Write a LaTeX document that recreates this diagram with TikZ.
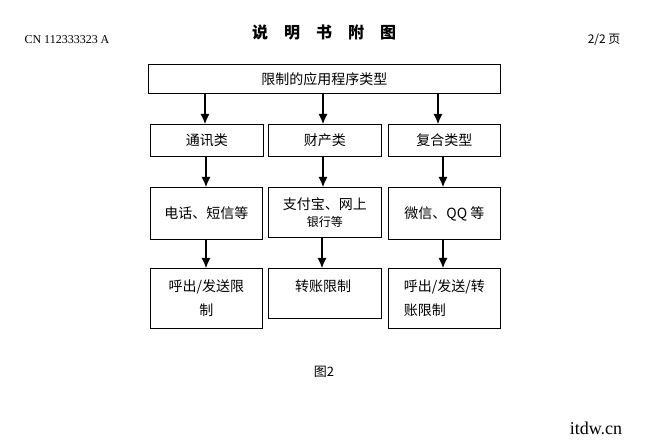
\documentclass[tikz,border=0pt]{standalone}
\usetikzlibrary{arrows.meta}
\usepackage{fontspec}
\setmainfont{Liberation Serif}
\newfontfamily\cjk{Noto Sans CJK SC}
\begin{document}
\begin{tikzpicture}[x=1pt,y=-1pt,
  box/.style={draw,line width=0.9pt,anchor=north west,inner sep=0pt,font=\cjk\fontsize{14}{20}\selectfont,align=center},
  arr/.style={-{Latex[length=10pt,width=9pt]},line width=1.1pt}]
\useasboundingbox (0,0) rectangle (649,441);
\node[anchor=west,font=\fontsize{12}{14}\selectfont] (cn) at (21,40) {CN 112333323 A};
\node[font=\cjk\bfseries\fontsize{16}{18}\selectfont] (tt) at (324,33) {说\quad 明\quad 书\quad 附\quad 图};
\node[anchor=east,font=\cjk\fontsize{12}{14}\selectfont] (pg) at (624,40) {2/2 页};
\node[box,minimum width=352pt,minimum height=29pt] (top) at (148,64) {限制的应用程序类型};
\node[box,minimum width=113pt,minimum height=32pt] (a1) at (150,124) {通讯类};
\node[box,minimum width=113pt,minimum height=32pt] (b1) at (268,124) {财产类};
\node[box,minimum width=112pt,minimum height=32pt] (c1) at (388,124) {复合类型};
\node[box,minimum width=112pt,minimum height=52pt] (a2) at (150,187) {电话、短信等};
\node[box,minimum width=113pt,minimum height=50pt] (b2) at (268,187) {支付宝、网上\\[-3pt]{\fontsize{12}{14}\selectfont 银行等}};
\node[box,minimum width=112pt,minimum height=52pt] (c2) at (388,187) {微信、QQ 等};
\node[box,minimum width=112pt,minimum height=60pt,align=center] (a3) at (150,268) {呼出/发送限\\[4pt]制};
\node[box,minimum width=113pt,minimum height=50pt,anchor=north west] (b3) at (268,268) {};
\node[font=\cjk\fontsize{14}{20}\selectfont] (b3t) at (323,286) {转账限制};
\node[box,minimum width=112pt,minimum height=60pt,align=left] (c3) at (388,268) {呼出/发送/转\\[4pt]账限制};
\node[font=\cjk\fontsize{13}{15}\selectfont] (fig) at (324,372) {图2};
\node[font=\fontsize{18}{20}\selectfont] (wm) at (596,428) {itdw.cn};
\draw[arr] (205,93) -- (205,124);
\draw[arr] (323,93) -- (323,124);
\draw[arr] (438,93) -- (438,124);
\draw[arr] (206,156) -- (206,187);
\draw[arr] (323,156) -- (323,187);
\draw[arr] (443,156) -- (443,187);
\draw[arr] (206,239) -- (206,268);
\draw[arr] (322,237) -- (322,268);
\draw[arr] (443,239) -- (443,268);
\end{tikzpicture}
\end{document}
